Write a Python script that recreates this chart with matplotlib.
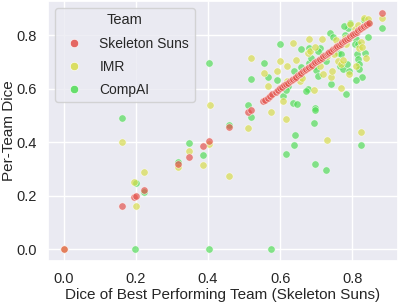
import matplotlib
matplotlib.use("Agg")
import matplotlib.pyplot as plt
import seaborn as sns

# =============================
# Data
# =============================
# Skeleton Suns is the reference team, so its per-team dice equals its own dice
ss_dice = [
    0.0, 0.162, 0.194, 0.2, 0.221, 0.317, 0.346, 0.386, 0.404, 0.457, 0.512, 0.519,
    0.553, 0.558, 0.566, 0.572, 0.578, 0.588, 0.595, 0.601, 0.606, 0.612, 0.617,
    0.621, 0.627, 0.632, 0.636, 0.641, 0.645, 0.651, 0.655, 0.659, 0.664, 0.668,
    0.672, 0.677, 0.681, 0.685, 0.689, 0.694, 0.698, 0.703, 0.707, 0.711, 0.716,
    0.72, 0.724, 0.729, 0.733, 0.737, 0.742, 0.746, 0.751, 0.755, 0.759, 0.764,
    0.768, 0.773, 0.777, 0.781, 0.786, 0.79, 0.795, 0.799, 0.803, 0.808, 0.812,
    0.817, 0.821, 0.825, 0.83, 0.834, 0.838, 0.842, 0.846, 0.883,
]

imr_x = [
    0.0, 0.2, 0.194, 0.221, 0.162, 0.405, 0.346, 0.386, 0.403, 0.317, 0.457, 0.73,
    0.883, 0.512, 0.518, 0.555, 0.574, 0.567, 0.592, 0.6, 0.616, 0.636, 0.607,
    0.618, 0.645, 0.655, 0.68, 0.676, 0.694, 0.715, 0.71, 0.719, 0.742, 0.743,
    0.754, 0.761, 0.77, 0.793, 0.807, 0.816, 0.832, 0.82, 0.825, 0.828, 0.811,
    0.791, 0.77, 0.784, 0.825, 0.682, 0.682, 0.696, 0.719, 0.774, 0.837, 0.66,
    0.75, 0.8, 0.73, 0.78, 0.62, 0.845,
]
imr_y = [
    0.0, 0.163, 0.25, 0.289, 0.399, 0.54, 0.368, 0.314, 0.393, 0.307, 0.275, 0.407,
    0.864, 0.451, 0.716, 0.66, 0.512, 0.611, 0.667, 0.704, 0.488, 0.769, 0.553,
    0.683, 0.707, 0.627, 0.786, 0.732, 0.596, 0.784, 0.685, 0.654, 0.642, 0.664,
    0.78, 0.704, 0.602, 0.84, 0.821, 0.837, 0.862, 0.753, 0.775, 0.756, 0.685,
    0.654, 0.691, 0.765, 0.438, 0.679, 0.74, 0.757, 0.722, 0.706, 0.716, 0.64,
    0.73, 0.8, 0.72, 0.79, 0.63, 0.86,
]

compai_x = [
    0.196, 0.2, 0.221, 0.162, 0.317, 0.346, 0.386, 0.403, 0.574, 0.404, 0.457,
    0.512, 0.518, 0.518, 0.555, 0.567, 0.592, 0.6, 0.616, 0.696, 0.728, 0.639,
    0.824, 0.641, 0.636, 0.647, 0.607, 0.622, 0.616, 0.639, 0.657, 0.657, 0.68,
    0.676, 0.671, 0.696, 0.696, 0.693, 0.696, 0.7, 0.705, 0.715, 0.712, 0.728,
    0.739, 0.747, 0.742, 0.749, 0.761, 0.761, 0.765, 0.77, 0.774, 0.784, 0.779,
    0.788, 0.776, 0.834, 0.843, 0.811, 0.807, 0.816, 0.814, 0.836, 0.843, 0.816,
    0.82, 0.818, 0.828, 0.811, 0.791, 0.785, 0.883, 0.68, 0.686, 0.705, 0.659,
    0.793,
]
compai_y = [
    0.0, 0.248, 0.215, 0.49, 0.326, 0.395, 0.352, 0.0, 0.0, 0.697, 0.465,
    0.54, 0.494, 0.636, 0.697, 0.644, 0.633, 0.768, 0.356, 0.317, 0.296, 0.388,
    0.388, 0.426, 0.546, 0.543, 0.574, 0.611, 0.593, 0.664, 0.747, 0.651, 0.753,
    0.599, 0.59, 0.527, 0.521, 0.471, 0.685, 0.669, 0.648, 0.726, 0.753, 0.704,
    0.809, 0.793, 0.617, 0.747, 0.759, 0.734, 0.685, 0.728, 0.673, 0.58, 0.802,
    0.827, 0.833, 0.856, 0.849, 0.784, 0.765, 0.768, 0.728, 0.734, 0.793, 0.71,
    0.691, 0.673, 0.644, 0.632, 0.667, 0.691, 0.827, 0.697, 0.714, 0.741, 0.679,
    0.846,
]

teams = ["Skeleton Suns", "IMR", "CompAI"]
colors = {"Skeleton Suns": "#e4504a", "IMR": "#d8dc4a", "CompAI": "#4fdc55"}

# =============================
# Plot
# =============================
sns.set_theme(style="darkgrid")
plt.rcParams["font.family"] = ["Liberation Sans", "DejaVu Sans"]

fig = plt.figure(figsize=(3.99, 3.03), dpi=100)
ax = fig.add_axes([48 / 399, 42 / 303, 350 / 399, 260 / 303])

kw = dict(s=28, alpha=0.68, edgecolor="white", linewidth=0.5)
ax.scatter(compai_x, compai_y, color=colors["CompAI"], **kw)
ax.scatter(imr_x, imr_y, color=colors["IMR"], **kw)
ax.scatter(ss_dice, ss_dice, color=colors["Skeleton Suns"], **kw)

ax.set_xticks([0.0, 0.2, 0.4, 0.6, 0.8])
ax.set_yticks([0.0, 0.2, 0.4, 0.6, 0.8])
ax.tick_params(labelsize=10.5, pad=2)
ax.set_xlabel("Dice of Best Performing Team (Skeleton Suns)", fontsize=11, labelpad=1)
ax.set_ylabel("Per-Team Dice", fontsize=11, labelpad=0)

handles = [
    plt.Line2D([], [], marker="o", ls="", color=colors[t], alpha=0.85,
               markeredgecolor="white", markeredgewidth=0.5, markersize=6)
    for t in teams
]
ax.legend(handles, teams, title="Team", loc="upper left", fontsize=10,
          title_fontsize=10.5, labelspacing=0.65)

fig.savefig("out.png", dpi=100)
